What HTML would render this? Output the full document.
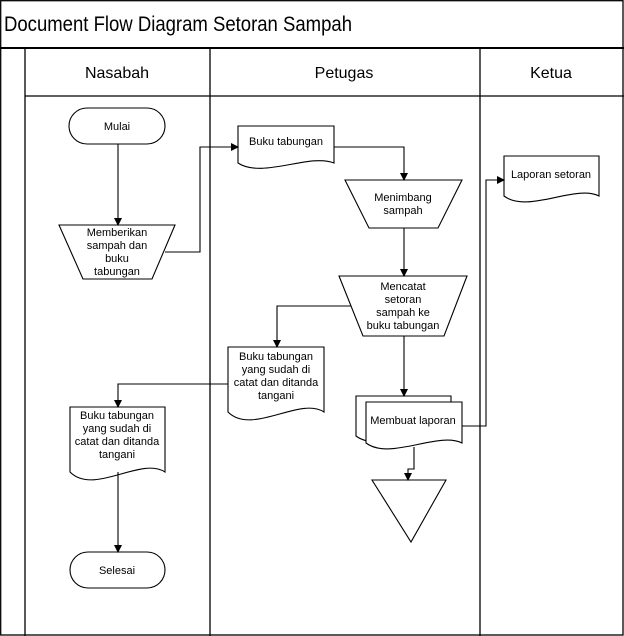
<!DOCTYPE html>
<html><head><meta charset="utf-8"><style>
body{margin:0;background:#fff}
svg{display:block}
text{font-family:"Liberation Sans",sans-serif;fill:#000}
.n{font-size:11px}
</style></head><body>
<svg width="624" height="636" viewBox="0 0 624 636" xmlns="http://www.w3.org/2000/svg">
<defs><marker id="a" markerWidth="8" markerHeight="8" refX="7" refY="4" orient="auto" markerUnits="userSpaceOnUse"><path d="M0,0 L8,4 L0,8 Z" fill="#000"/></marker></defs>
<g fill="none" stroke="#000" stroke-width="1.3">
<rect x="0.7" y="0.7" width="622.3" height="634.3"/>
<line x1="0" y1="48" x2="624" y2="48" stroke-width="2"/>
<line x1="25" y1="48" x2="25" y2="636"/>
<line x1="210" y1="48" x2="210" y2="636"/>
<line x1="480" y1="48" x2="480" y2="636"/>
<line x1="25" y1="96" x2="624" y2="96"/>
</g>
<text x="4" y="31" font-size="21" textLength="348" lengthAdjust="spacingAndGlyphs">Document Flow Diagram Setoran Sampah</text>
<text x="117" y="78" font-size="16" text-anchor="middle">Nasabah</text>
<text x="344" y="78" font-size="16" text-anchor="middle">Petugas</text>
<text x="551" y="78" font-size="16" text-anchor="middle">Ketua</text>
<g fill="#fff" stroke="#000" stroke-width="1.1">
<rect x="69" y="108" width="96" height="36" rx="18"/>
<rect x="70" y="552" width="95" height="36" rx="18"/>
<path d="M59,225 H175 L152,279 H83 Z"/>
<path d="M345,180 H462 L438,228 H369 Z"/>
<path d="M339,276 H467 L444,336 H363 Z"/>
<path d="M238,126 H334 V163 C310,153 262,179 238,163 Z"/>
<path d="M228,347 H324 V412 C300,396 252,436 228,412 Z"/>
<path d="M70,407 H165 V472 C141,456 94,496 70,472 Z"/>
<path d="M504,156 H599 V196 C575,184 528,214 504,196 Z"/>
<path d="M356,396 H451 V436 C427,424 380,454 356,436 Z"/>
<path d="M366,402 H462 V443 C438,431 390,461 366,443 Z"/>
<path d="M372,480 H446 L411,542 Z"/>
</g>
<g fill="none" stroke="#000" stroke-width="1.1" marker-end="url(#a)">
<path d="M118,144 V225"/>
<path d="M165,252 H200 V147 H238"/>
<path d="M334,147 H404 V180"/>
<path d="M404,228 V276"/>
<path d="M351,306 H277 V347"/>
<path d="M228,384 H118 V407"/>
<path d="M118,472 V552"/>
<path d="M404,336 V396"/>
<path d="M462,426 H486 V180 H504"/>
<path d="M414,447 V469 H408 V480"/>
</g>
<g class="n" text-anchor="middle">
<text x="117" y="130" class="n">Mulai</text>
<text x="117" y="236" class="n">Memberikan</text>
<text x="117" y="249" class="n">sampah dan</text>
<text x="117" y="262" class="n">buku</text>
<text x="117" y="275" class="n">tabungan</text>
<text x="286" y="145" class="n">Buku tabungan</text>
<text x="403" y="201" class="n">Menimbang</text>
<text x="403" y="214" class="n">sampah</text>
<text x="403" y="290" class="n">Mencatat</text>
<text x="403" y="303" class="n">setoran</text>
<text x="403" y="316" class="n">sampah  ke</text>
<text x="403" y="329" class="n">buku tabungan</text>
<text x="276" y="360" class="n">Buku tabungan</text>
<text x="276" y="373" class="n">yang sudah di</text>
<text x="276" y="386" class="n">catat dan ditanda</text>
<text x="276" y="399" class="n">tangani</text>
<text x="117" y="419" class="n">Buku tabungan</text>
<text x="117" y="432" class="n">yang sudah di</text>
<text x="117" y="445" class="n">catat dan ditanda</text>
<text x="117" y="458" class="n">tangani</text>
<text x="413" y="424" class="n">Membuat laporan</text>
<text x="551" y="178" class="n">Laporan setoran</text>
<text x="117" y="574" class="n">Selesai</text>
</g>
</svg>
</body></html>
